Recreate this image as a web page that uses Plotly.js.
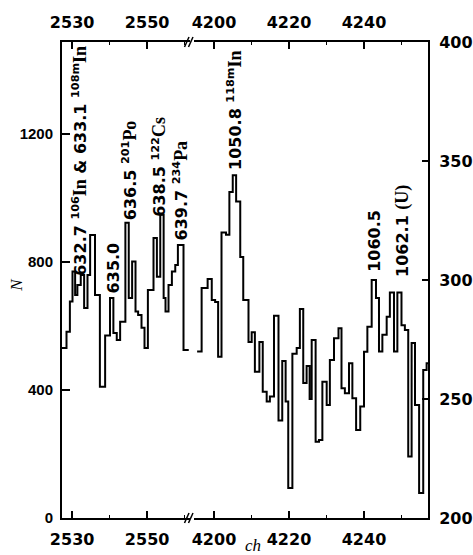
<!DOCTYPE html>
<html><head><meta charset="utf-8">
<script src="https://cdn.plot.ly/plotly-3.0.1.min.js"></script>
<style>html,body{margin:0;padding:0;background:#fff;}#plot{width:473px;height:555px;}</style>
</head><body><div id="plot"></div>
<script>
// Left segment (channels 2527-2561), counts N on left axis
var chLeft = [2527.3, 2528.5, 2529.4, 2530.1, 2530.8, 2531.4, 2532.3, 2533.2, 2534.1, 2534.8,
              2536.1, 2537.4, 2538.8, 2540.1, 2541.0, 2541.9, 2542.8, 2544.2, 2545.1, 2546.0,
              2546.9, 2547.6, 2548.5, 2549.3, 2550.2, 2551.7, 2552.6, 2553.5, 2554.4, 2554.9,
              2555.7, 2556.6, 2557.5, 2558.2, 2559.7, 2561.1];
var nLeft  = [531, 582, 676, 770, 697, 728, 759, 656, 759, 884,
              697, 410, 570, 687, 578, 556, 613, 922, 687, 801,
              645, 634, 594, 531, 712, 875, 754, 947, 687, 645,
              728, 770, 790, 853, 525, 525];
// Right segment (channels 4195-4257), counts on right axis
var chRight = [4195.5, 4196.7, 4198.3, 4199.4, 4200.3, 4201.1, 4202.0, 4203.2, 4204.1, 4205.0,
               4205.9, 4207.0, 4207.8, 4209.2, 4210.05, 4210.9, 4212.1, 4213.0, 4214.05, 4214.9,
               4216.0, 4217.2, 4218.2, 4219.1, 4219.8, 4220.9, 4222.05, 4222.9, 4223.8, 4224.7,
               4225.5, 4226.05, 4227.1, 4228.0, 4228.9, 4230.05, 4230.9, 4232.0, 4233.2, 4234.0,
               4234.9, 4236.0, 4236.9, 4237.9, 4239.0, 4240.0, 4240.9, 4242.05, 4243.2, 4244.0,
               4244.9, 4246.05, 4246.9, 4248.0, 4248.9, 4250.0, 4250.9, 4251.8, 4252.7, 4253.6,
               4254.7, 4255.8, 4256.7, 4257.1];
var nRight  = [270, 296.6, 300.4, 291.6, 290.8, 267.7, 320, 319, 337, 344,
               333, 309.7, 291.6, 274, 278, 261.5, 274, 253, 249, 251,
               285, 241, 266, 249, 212.6, 269, 271.4, 287.8, 256.7, 263.9,
               250, 274.8, 232, 232.8, 257.3, 247.5, 266.4, 275.5, 279.7, 254.5,
               252.4, 265, 250.3, 237, 246.8, 269.9, 280.4, 300, 292.4, 270,
               277, 284.6, 294.7, 270, 294.7, 281, 279, 225.8, 273.5, 247.5,
               210.5, 262.2, 265, 265];
var leftTicks = [0, 400, 800, 1200];
var rightTicks = [200, 250, 300, 350, 400];
var el = function(s){ return '<span style="font-family:\'Liberation Serif\';font-size:18px">' + s + '</span>'; };
var peakLabels = [
  '632.7 <sup>106</sup>' + el('In') + ' & 633.1 <sup>108m</sup>' + el('In'),
  '635.0',
  '636.5 <sup>201</sup>' + el('Po'),
  '638.5 <sup>122</sup>' + el('Cs'),
  '639.7 <sup>234</sup>' + el('Pa'),
  '1050.8 <sup>118m</sup>' + el('In'),
  '1060.5',
  '1062.1 ' + el('(U)')
];

var lineStyle = {color: '#000', width: 2, shape: 'hv'};
var hidden = {width: 0, color: 'rgba(0,0,0,0)'};
var traces = [
  {x: chLeft, y: nLeft, xaxis: 'x', yaxis: 'y', mode: 'lines', line: lineStyle, hoverinfo: 'skip'},
  {x: chRight, y: nRight, xaxis: 'x2', yaxis: 'y2', mode: 'lines', line: lineStyle, hoverinfo: 'skip'},
  // carriers for the top (mirrored) axes
  {x: chLeft, y: nLeft, xaxis: 'x3', yaxis: 'y', mode: 'lines', line: hidden, hoverinfo: 'skip'},
  {x: chRight, y: nRight, xaxis: 'x4', yaxis: 'y2', mode: 'lines', line: hidden, hoverinfo: 'skip'}
];

var tickFontX = {family: 'DejaVu Sans', size: 16, weight: 'bold', color: '#000'};
var tickFontY = {family: 'Liberation Sans', size: 15, weight: 'bold', color: '#000'};
var dL = [0, 0.3484], dR = [0.3607, 1];
var rL = [2527.3, 2561.3], rR = [4194.67, 4257.07];
function xax(dom, rng, t0, side, anchor) {
  return {domain: dom, range: rng, tick0: t0, dtick: 20, ticks: 'inside', ticklen: 7, tickwidth: 1.5,
    tickcolor: '#000', showline: true, linewidth: 2, linecolor: '#000', showgrid: false, zeroline: false,
    tickfont: tickFontX, side: side, anchor: anchor, ticklabelstandoff: 6,
    minor: {dtick: 10, tick0: t0, ticks: 'inside', ticklen: 3, tickwidth: 1, tickcolor: '#000', showgrid: false}};
}
function slash(x0, x1, yc) {
  return {type: 'line', xref: 'paper', yref: 'paper', x0: x0, x1: x1, y0: yc - 0.0105, y1: yc + 0.0105,
          line: {color: '#000', width: 1.5}};
}
var annFont = {family: 'DejaVu Sans', size: 16, weight: 'bold', color: '#000'};
function lab(i, xr, yr, x, y) {
  return {text: peakLabels[i], xref: xr, yref: yr, x: x, y: y, textangle: -90, showarrow: false,
          xanchor: 'center', yanchor: 'middle', font: annFont};
}
var layout = {
  width: 473, height: 555,
  margin: {l: 62, r: 45, t: 42, b: 37},
  paper_bgcolor: '#fff', plot_bgcolor: 'rgba(0,0,0,0)',
  showlegend: false,
  xaxis: xax(dL, rL, 2530, 'bottom', 'y'),
  xaxis2: xax(dR, rR, 4200, 'bottom', 'y2'),
  xaxis3: xax(dL, rL, 2530, 'top', 'y'),
  xaxis4: xax(dR, rR, 4200, 'top', 'y2'),
  yaxis: {domain: [0, 1], range: [0, 1487], tickvals: leftTicks, ticks: 'inside', ticklen: 8, tickwidth: 1.5,
    tickcolor: '#000', showline: true, linewidth: 2, linecolor: '#000', showgrid: false, zeroline: false,
    tickfont: tickFontY, anchor: 'x', side: 'left', ticklabelstandoff: 4},
  yaxis2: {domain: [0, 1], side: 'right', anchor: 'x2', range: [200, 400], tickvals: rightTicks, ticks: 'inside',
    ticklen: 6, tickwidth: 1.5, tickcolor: '#000', showline: true, linewidth: 2, linecolor: '#000',
    showgrid: false, zeroline: false, tickfont: tickFontX, ticklabelstandoff: 6},
  shapes: [
    slash(0.3347, 0.3470, 0), slash(0.3456, 0.3579, 0),
    slash(0.3347, 0.3470, 1), slash(0.3456, 0.3579, 1)
  ],
  annotations: [
    lab(0, 'x', 'y', 2532.1, 1116),
    lab(1, 'x', 'y', 2541.0, 781),
    lab(2, 'x', 'y', 2545.2, 1087),
    lab(3, 'x', 'y', 2553.2, 1098),
    lab(4, 'x', 'y', 2559.0, 1023),
    lab(5, 'x2', 'y2', 4205.3, 371.4),
    lab(6, 'x2', 'y2', 4242.9, 316.4),
    lab(7, 'x2', 'y2', 4250.4, 320.6),
    {text: 'N', xref: 'paper', yref: 'paper', x: -0.123, y: 0.49, textangle: -90, showarrow: false,
     xanchor: 'center', yanchor: 'middle', font: {family: 'Liberation Serif', size: 17, style: 'italic', color: '#000'}},
    {text: 'ch', xref: 'paper', yref: 'paper', x: 0.522, y: -0.058, showarrow: false,
     xanchor: 'center', yanchor: 'middle', font: {family: 'Liberation Serif', size: 17, style: 'italic', color: '#000'}}
  ]
};
Plotly.newPlot('plot', traces, layout, {staticPlot: true, displayModeBar: false});
</script></body></html>
